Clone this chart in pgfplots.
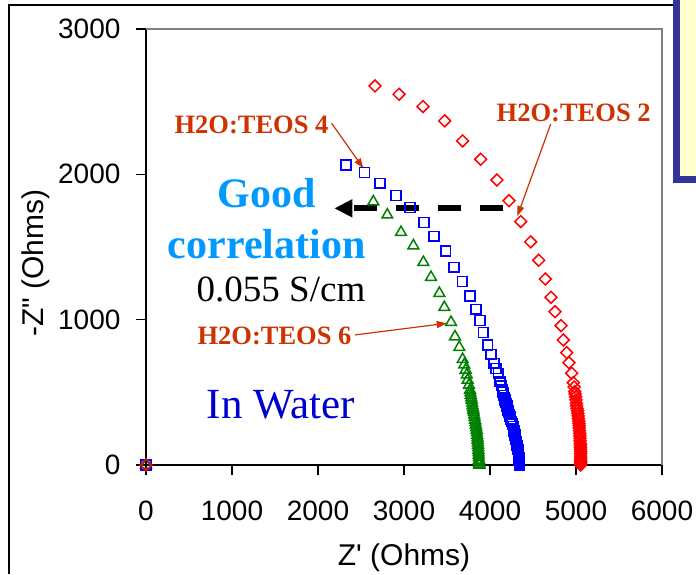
\documentclass[border=0pt]{standalone}
\usepackage{fontspec}
\usepackage{pgfplots}
\pgfplotsset{compat=1.18}
\usetikzlibrary{arrows.meta}
\setmainfont{Liberation Serif}
\newfontfamily\arialf{Liberation Sans}[Ligatures=TeXOff]
\newfontfamily\timesf{Liberation Serif}
\definecolor{annot}{HTML}{CC3300}
\definecolor{goodc}{HTML}{0099FF}
\definecolor{waterc}{HTML}{0000CC}
\definecolor{framec}{HTML}{333399}
\definecolor{boxfill}{HTML}{FFFFCC}
\definecolor{sred}{HTML}{FF0000}
\definecolor{sblue}{HTML}{0000FF}
\definecolor{sgreen}{HTML}{008000}
\definecolor{gborder}{HTML}{808080}

\pgfplotstableread{
x y
0 0
2643 1812
2806 1721
2965 1601
3109 1509
3225 1395
3314 1292
3411 1182
3469 1085
3547 982
3593 883
3643 810
3682 727
3700 690
3717 654
3730 620
3740 585
3755 550
3767 516
3772 498
3777 480
3782 463
3787 447
3792 428
3797 410
3802 394
3806 379
3811 362
3816 345
3821 328
3826 310
3831 292
3835 275
3840 258
3845 241
3848 223
3851 205
3854 188
3857 172
3859 155
3861 138
3863 120
3865 103
3867 86
3869 68
3870 51
3872 34
3873 24
3874 15
3875 7
3876 0
}\teossix

\pgfplotstableread{
x y
0 0
2326 2065
2539 2012
2721 1939
2907 1854
3070 1771
3233 1668
3349 1574
3485 1473
3581 1361
3678 1262
3767 1163
3837 1072
3884 994
3922 911
3973 826
4012 762
4047 700
4070 665
4097 631
4116 573
4130 545
4143 516
4152 498
4160 480
4167 463
4174 447
4182 433
4190 420
4196 405
4201 390
4208 375
4215 360
4224 346
4233 332
4242 316
4250 300
4260 282
4271 264
4276 250
4280 235
4286 220
4291 206
4296 192
4300 178
4305 163
4310 149
4315 134
4320 120
4325 106
4330 92
4332 77
4334 62
4336 48
4337 34
4339 24
4340 15
4340 7
4340 0
}\teosfour

\pgfplotstableread{
x y
0 0
2663 2608
2942 2551
3221 2466
3473 2368
3682 2230
3892 2104
4081 1961
4221 1819
4357 1675
4473 1535
4566 1409
4643 1280
4709 1154
4756 1055
4826 959
4852 860
4892 773
4919 704
4950 631
4969 567
4978 536
4985 505
4990 488
4995 470
5000 448
5004 425
5008 408
5012 390
5018 373
5023 356
5026 338
5028 320
5032 304
5035 287
5037 271
5038 255
5041 237
5043 218
5045 202
5046 185
5048 167
5050 149
5051 135
5052 120
5053 106
5054 92
5054 77
5054 62
5054 48
5054 34
5054 24
5054 15
5054 7
5054 0
}\teostwo

\begin{document}
\begin{tikzpicture}[x=1pt,y=1pt]
\useasboundingbox (0,0) rectangle (696,574);
% slide frame decorations
\draw[black, line width=1.5pt] (9,0) -- (9,569) -- (673,569);
\begin{scope}
\clip (0,0) rectangle (696,574);
\draw[framec, line width=7pt, fill=boxfill] (676.5,394.5) rectangle (730,600);
\end{scope}
\begin{axis}[
  at={(146pt,109pt)}, anchor=south west,
  scale only axis, width=516pt, height=436pt,
  xmin=0, xmax=6000, ymin=0, ymax=3000,
  axis x line*=bottom, axis y line*=left,
  axis line style={black, line width=1.5pt},
  tick align=outside, major tick length=10pt,
  tick style={black, line width=1.5pt},
  xtick={0,1000,2000,3000,4000,5000,6000},
  ytick={0,1000,2000,3000},
  scaled ticks=false,
  /pgf/number format/1000 sep={},
  /pgf/number format/assume math mode=true,
  ticklabel style={font=\arialf\fontsize{28}{32}\selectfont},
  xticklabel style={anchor=base, yshift=-45pt},
  yticklabel style={anchor=east, xshift=-12pt},
  xlabel={Z\textquotesingle{} (Ohms)},
  ylabel={-Z" (Ohms)},
  label style={font=\arialf\fontsize{30}{34}\selectfont},
  xlabel style={at={(axis description cs:0.5,0)}, anchor=base, yshift=-100pt},
  ylabel style={at={(axis description cs:-0.2132,0.4633)}, anchor=center},
  clip=false,
]
\draw[gborder, line width=1.5pt] (rel axis cs:0,1) -- (rel axis cs:1,1) -- (rel axis cs:1,0);

\addplot[only marks, mark=triangle, mark size=6.2pt, sgreen, mark options={line width=1.5pt, fill=none}] table[x=x,y=y] {\teossix};
\addplot[only marks, mark=square, mark size=4.9pt, sblue, mark options={line width=1.5pt, fill=none}] table[x=x,y=y] {\teosfour};
\addplot[only marks, mark=square, mark size=4.2pt, sred, mark options={line width=1.5pt, fill=none, rotate=45}] table[x=x,y=y] {\teostwo};

% annotations
\node[anchor=base, text=annot, font=\timesf\bfseries\fontsize{26.5}{30}\selectfont] at (axis cs:1227,2284) {H2O:TEOS 4};
\draw[annot, line width=1.2pt, -{Triangle[length=10pt,width=7pt]}] (axis cs:2159,2351) -- (axis cs:2527,2042);
\node[anchor=base, text=annot, font=\timesf\bfseries\fontsize{26.5}{30}\selectfont] at (axis cs:4973,2362) {H2O:TEOS 2};
\draw[annot, line width=1.2pt, -{Triangle[length=10pt,width=7pt]}] (axis cs:4706,2346) -- (axis cs:4318,1713);
\node[anchor=base, text=annot, font=\timesf\bfseries\fontsize{26.5}{30}\selectfont] at (axis cs:1494,826) {H2O:TEOS 6};
\draw[annot, line width=1.2pt, -{Triangle[length=10pt,width=7pt]}] (axis cs:2430,895) -- (axis cs:3497,975);
\node[anchor=base, text=goodc, font=\timesf\bfseries\fontsize{42}{46}\selectfont] at (axis cs:1403,1775) {Good};
\node[anchor=base, text=goodc, font=\timesf\bfseries\fontsize{42}{46}\selectfont] at (axis cs:1403,1424) {correlation};
\node[anchor=base, text=black, font=\timesf\fontsize{37}{40}\selectfont] at (axis cs:1570,1124) {0.055 S/cm};
\node[anchor=base, text=waterc, font=\timesf\fontsize{43}{46}\selectfont] at (axis cs:1570,323) {In Water};
\draw[black, line width=6pt, dash pattern=on 23pt off 19pt, -{Triangle[length=18pt,width=17pt]}] (axis cs:4148,1766) -- (axis cs:2190,1766);
\end{axis}
\end{tikzpicture}
\end{document}
